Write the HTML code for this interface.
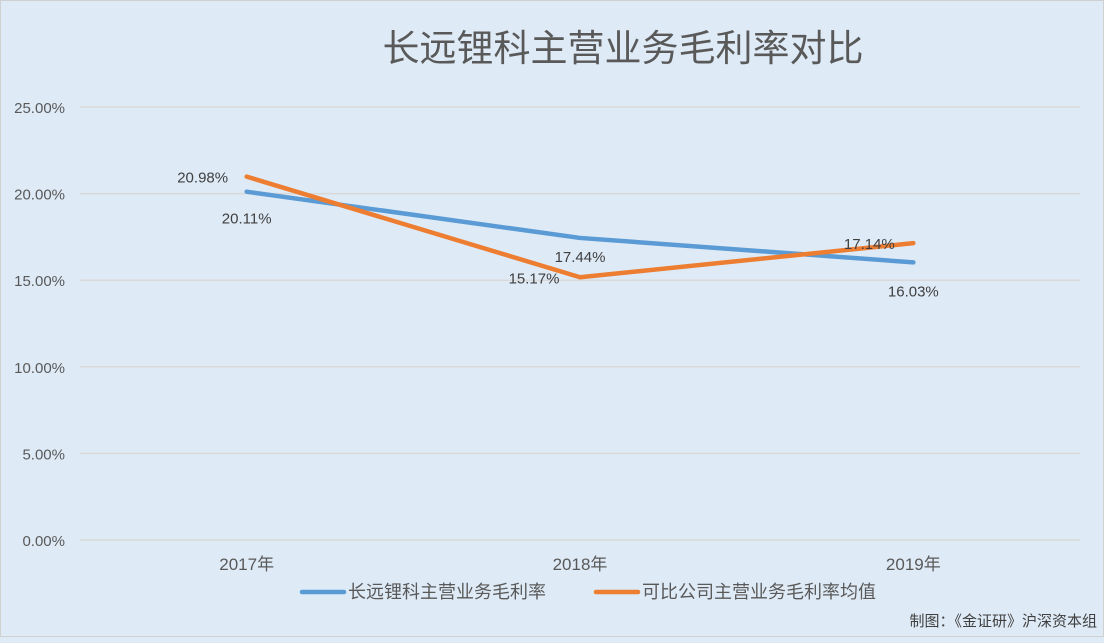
<!DOCTYPE html>
<html><head><meta charset="utf-8">
<style>
body{margin:0;width:1104px;height:637px;overflow:hidden;background:#deeaf6;font-family:"Liberation Sans","Noto Sans CJK SC",sans-serif;}
#wrap{position:absolute;left:0;top:0;width:1102px;height:635px;border:1px solid #d0d0d0;background:#deeaf6;}
</style></head><body>
<div id="wrap">
<svg id="chart" width="1104" height="637" xmlns="http://www.w3.org/2000/svg">
<text x="622" y="60" text-anchor="middle" font-size="37" fill="#595959" font-family="Liberation Sans, Noto Sans CJK SC, sans-serif">长远锂科主营业务毛利率对比</text>
<g id="grid"></g><g id="series"></g><g id="labels"></g>
<g>
<line x1="301" y1="591" x2="343" y2="591" stroke="#5b9bd5" stroke-width="4.5" stroke-linecap="round"/>
<text x="347" y="597" font-size="18" fill="#595959">长远锂科主营业务毛利率</text>
<line x1="595" y1="591" x2="637" y2="591" stroke="#ed7d31" stroke-width="4.5" stroke-linecap="round"/>
<text x="641" y="597" font-size="18" fill="#595959">可比公司主营业务毛利率均值</text>
</g>
<text x="1096" y="625" text-anchor="end" font-size="15" fill="#404040">制图：《金证研》沪深资本组</text>
</svg>
</div>
<script>
const categories=["2017年","2018年","2019年"];
const seriesA=[20.11,17.44,16.03];
const seriesB=[20.98,15.17,17.14];
const yTicks=[0,5,10,15,20,25];
const NS="http://www.w3.org/2000/svg";
const x0=79,x1=1079,y0=539,yTop=106;
function y(v){return y0-(v/25)*(y0-yTop);}
function x(i){const w=(x1-x0)/categories.length;return x0+w*(i+0.5);}
function mk(tag,attrs,parent){const e=document.createElementNS(NS,tag);for(const k in attrs)e.setAttribute(k,attrs[k]);parent.appendChild(e);return e;}
const grid=document.getElementById('grid'),ser=document.getElementById('series'),lab=document.getElementById('labels');
yTicks.forEach(t=>{
 const l=mk('line',{x1:x0,x2:x1,y1:y(t),y2:y(t),stroke:'#d9d9d9','stroke-width':1.5},grid);
 
 
 const tx=mk('text',{x:64,y:y(t)+6,'text-anchor':'end','font-size':15,fill:'#595959'},grid);
 tx.textContent=t.toFixed(2)+'%';
 
 
});
categories.forEach((c,i)=>{
 const tx=mk('text',{x:x(i),y:569,'text-anchor':'middle','font-size':17,fill:'#595959'},grid);
 tx.textContent=c;
 
 
});
function line(data,color,name){
 const p=mk('polyline',{points:data.map((v,i)=>x(i)+','+y(v)).join(' '),fill:'none',stroke:color,'stroke-width':4.5,'stroke-linejoin':'round','stroke-linecap':'round'},ser);
 
 
}
line(seriesA,'#5b9bd5','line-changyuan');
line(seriesB,'#ed7d31','line-peer-avg');
const offA=[[0,32],[0,24],[0,34]];
const offB=[[-44,6],[-46,6],[-44,6]];
function labels(data,off,name){
 data.forEach((v,i)=>{
  const tx=mk('text',{x:x(i)+off[i][0],y:y(v)+off[i][1],'text-anchor':'middle','font-size':15,fill:'#404040'},lab);
  tx.textContent=v.toFixed(2)+'%';
  
  
 });
}
labels(seriesA,offA,'data-label-changyuan');
labels(seriesB,offB,'data-label-peer-avg');
</script>
</body></html>
